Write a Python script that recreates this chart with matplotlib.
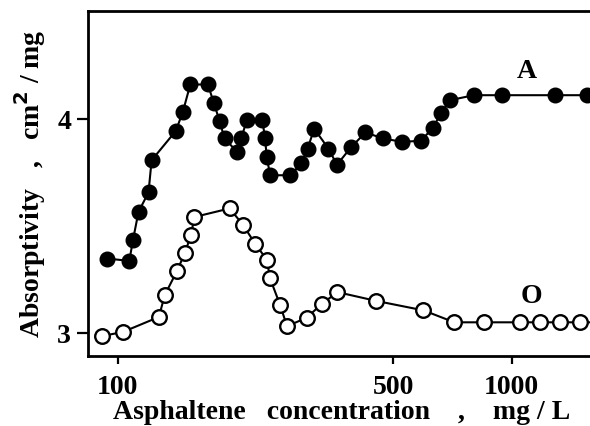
import matplotlib
matplotlib.use("Agg")
import matplotlib.pyplot as plt
from matplotlib.ticker import FixedLocator, NullLocator, FixedFormatter

plt.rcParams['font.family'] = ['Liberation Serif', 'DejaVu Serif']
plt.rcParams['font.weight'] = 'bold'

# series A (filled circles)
conc_a = [93.8, 107, 109.3, 112.9, 119.7, 121.9, 140.4, 146.3, 152.8, 169.3,
          175.4, 181.3, 186.7, 200.9, 206.1, 212.6, 232.9, 236.5, 238.9, 243.6,
          274.2, 292.5, 303.4, 315.3, 342.5, 360.1, 390.7, 425.4, 471.1, 527,
          587, 630.4, 662.2, 698.4, 801.4, 947, 1290, 1550, 1800]
abs_a = [3.349, 3.338, 3.435, 3.567, 3.658, 3.808, 3.945, 4.034, 4.162, 4.162,
         4.076, 3.991, 3.910, 3.847, 3.914, 3.995, 3.995, 3.910, 3.824, 3.738,
         3.738, 3.793, 3.863, 3.955, 3.863, 3.787, 3.868, 3.938, 3.910, 3.894,
         3.899, 3.957, 4.031, 4.089, 4.112, 4.112, 4.112, 4.112, 4.112]

# series O (open circles)
conc_o = [91.4, 103.1, 127.2, 131.6, 141.3, 148.1, 153.5, 156.5, 192.3, 208.2,
          223, 238.9, 243.6, 258.4, 268.9, 301.6, 329, 361.2, 452.8, 596.6,
          715.2, 850.5, 1048, 1180, 1328, 1490, 1800]
abs_o = [2.987, 3.006, 3.076, 3.178, 3.290, 3.375, 3.461, 3.543, 3.583, 3.505,
         3.419, 3.344, 3.256, 3.131, 3.033, 3.072, 3.136, 3.192, 3.151, 3.107,
         3.051, 3.051, 3.051, 3.051, 3.051, 3.051, 3.051]

xticks = [100, 500, 1000]
xticklabels = ['100', '500', '1000']
yticks = [3, 4]
yticklabels = ['3', '4']

fig = plt.figure(figsize=(5.9, 4.26), dpi=100)
ax = fig.add_axes([0.149, 0.164, 0.86, 0.81])

ax.plot(conc_a, abs_a, '-o', color='black', lw=1.5, ms=10.5,
        mfc='black', mec='black')
ax.plot(conc_o, abs_o, '-o', color='black', lw=1.5, ms=10.5,
        mfc='white', mec='black', mew=1.7)

ax.set_xscale('log')
ax.set_xlim(84, 1630)
ax.set_ylim(2.893, 4.505)

ax.xaxis.set_major_locator(FixedLocator(xticks))
ax.xaxis.set_major_formatter(FixedFormatter(xticklabels))
ax.xaxis.set_minor_locator(NullLocator())
ax.set_yticks(yticks)
ax.set_yticklabels(yticklabels)

for s in ax.spines.values():
    s.set_linewidth(2)
ax.spines['right'].set_visible(False)

ax.tick_params(axis='x', direction='out', length=5.5, width=1.6, pad=8, labelsize=20)
ax.tick_params(axis='y', direction='out', length=8, width=1.6, pad=4, labelsize=20)

ax.set_xlabel('Asphaltene   concentration    ,    mg / L', fontsize=20,
              fontweight='bold', labelpad=0)
ax.set_ylabel('Absorptivity   ,   cm$^\\mathbf{2}$ / mg', fontsize=20,
              fontweight='bold', labelpad=7)

ax.text(1090, 4.225, 'A', fontsize=20, fontweight='bold', ha='center', va='center')
ax.text(1125, 3.17, 'O', fontsize=20, fontweight='bold', ha='center', va='center')

fig.savefig('out.png', dpi=100)
